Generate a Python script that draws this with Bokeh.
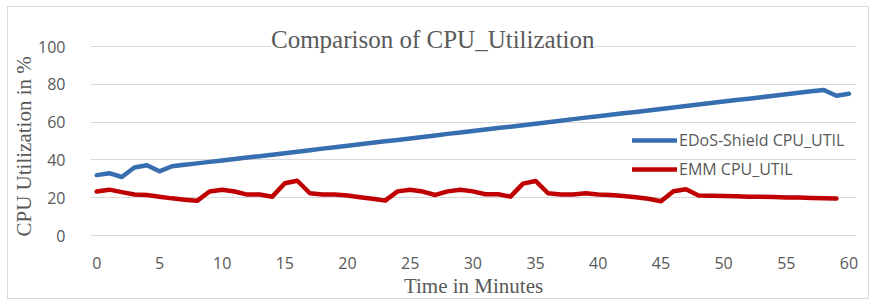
from bokeh.plotting import figure
from bokeh.models import Range1d, FixedTicker, Label, Legend, LegendItem, ColumnDataSource, Title
from bokeh.embed import file_html
from bokeh.resources import INLINE

# ---- data ----
minutes_edos = list(range(0, 61))
edos_cpu = [32, 33, 31, 36, 37.2, 34, 36.7, 37.5, 38.2, 39, 39.7, 40.5, 41.3, 42, 42.8,
            43.6, 44.4, 45.2, 46, 46.7, 47.5, 48.3, 49.1, 49.9, 50.6, 51.4, 52.2, 53,
            53.8, 54.5, 55.3, 56.1, 56.9, 57.6, 58.4, 59.2, 60, 60.8, 61.6, 62.4, 63.1,
            63.9, 64.7, 65.4, 66.2, 67, 67.8, 68.5, 69.3, 70.1, 70.9, 71.7, 72.4, 73.2,
            74, 74.8, 75.5, 76.3, 77, 74, 75]
minutes_emm = list(range(0, 60))
emm_cpu = [23.3, 24.3, 23, 21.7, 21.5, 20.6, 19.7, 19, 18.4, 23.3, 24.3, 23.3, 21.7, 21.7,
           20.6, 27.7, 29, 22.4, 21.7, 21.7, 21.2, 20.3, 19.5, 18.5, 23.4, 24.3, 23.3,
           21.5, 23.4, 24.3, 23.4, 21.9, 21.9, 20.6, 27.5, 28.9, 22.4, 21.7, 21.7, 22.4,
           21.7, 21.5, 21, 20.3, 19.5, 18.2, 23.5, 24.5, 21.2, 21.1, 20.9, 20.8, 20.6,
           20.5, 20.4, 20.2, 20.1, 19.9, 19.8, 19.6]
x_ticks = [0, 5, 10, 15, 20, 25, 30, 35, 40, 45, 50, 55, 60]
y_ticks = [0, 20, 40, 60, 80, 100]
series_names = ["EDoS-Shield CPU_UTIL", "EMM CPU_UTIL"]
title_text = "Comparison of CPU_Utilization"
x_label = "Time in Minutes"
y_label = "CPU Utilization in %"

TXT = "#595959"
GRID = "#D9D9D9"
BLUE = "#366EAF"
RED = "#C00000"

p = figure(width=862, height=293, output_backend="svg", toolbar_location=None,
           x_range=Range1d(-0.5, 60.6), y_range=Range1d(-1, 118),
           min_border_left=82, min_border_right=14, min_border_top=5, min_border_bottom=63,
           margin=(6, 0, 0, 7), styles={"border": "1px solid #D9D9D9"})
p.outline_line_color = None
p.background_fill_color = "white"
p.border_fill_color = "white"

src_a = ColumnDataSource(dict(x=minutes_edos, y=edos_cpu))
src_b = ColumnDataSource(dict(x=minutes_emm, y=emm_cpu))
r_a = p.line("x", "y", source=src_a, line_color=BLUE, line_width=4.5, line_join="round", line_cap="round")
r_b = p.line("x", "y", source=src_b, line_color=RED, line_width=4.5, line_join="round", line_cap="round")

p.xaxis.ticker = FixedTicker(ticks=x_ticks)
p.yaxis.ticker = FixedTicker(ticks=y_ticks)
for ax in (p.xaxis[0], p.yaxis[0]):
    ax.axis_line_color = None
    ax.major_tick_line_color = None
    ax.minor_tick_line_color = None
    ax.major_label_text_font = "Open Sans"
    ax.major_label_text_font_size = "16px"
    ax.major_label_text_color = TXT
    ax.axis_label_text_font = "Liberation Serif"
    ax.axis_label_text_font_size = "21px"
    ax.axis_label_text_font_style = "normal"
    ax.axis_label_text_color = TXT
p.xaxis.axis_label = x_label
p.xaxis.major_label_standoff = 13
p.xaxis.axis_label_standoff = 2
p.yaxis.major_label_standoff = 19

p.xgrid.grid_line_color = None
p.ygrid.grid_line_color = GRID
p.ygrid.grid_line_width = 1

# y axis title: starts at the bottom of the frame, like the reference
p.add_layout(Title(text=y_label, align="left", offset=1, standoff=0,
                   text_font="Liberation Serif", text_font_size="21px",
                   text_font_style="normal", text_color=TXT), "left")

p.add_layout(Label(x=26.8, y=103.7, text=title_text, text_align="center", text_baseline="middle",
                   text_font="Liberation Serif", text_font_size="25px", text_color=TXT,
                   background_fill_color="white"))

legend = Legend(items=[LegendItem(label=series_names[0], renderers=[r_a]),
                       LegendItem(label=series_names[1], renderers=[r_b])],
                location=(542, 57), padding=0, margin=0, spacing=7,
                glyph_width=45, glyph_height=20, label_height=20, label_standoff=2,
                label_text_font="Open Sans", label_text_font_size="16px", label_text_color=TXT,
                background_fill_alpha=0, border_line_color=None)
p.add_layout(legend)

open("out.html", "w").write(file_html(p, INLINE))
